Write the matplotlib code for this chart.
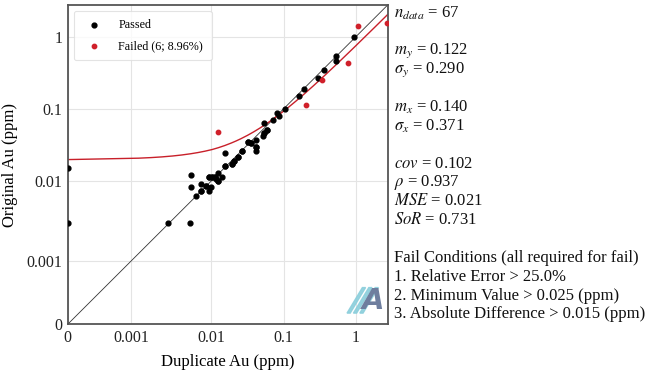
import numpy as np
import matplotlib
matplotlib.use("Agg")
import matplotlib.pyplot as plt
from matplotlib.patches import Polygon

plt.rcParams['font.family'] = ['Liberation Serif', 'DejaVu Serif']
plt.rcParams['mathtext.fontset'] = 'stix'

# ---------------- data ----------------
passed_x = [0.0, 0.0, 0.0029, 0.0054, 0.0055, 0.0055, 0.0064, 0.0074, 0.0074, 0.0086,
            0.0093, 0.0100, 0.0092, 0.0102, 0.0111, 0.0117, 0.0123, 0.0141, 0.0124, 0.0153,
            0.0153, 0.0194, 0.0204, 0.0231, 0.0266, 0.0318, 0.0352, 0.0407, 0.0412, 0.0415,
            0.0517, 0.0542, 0.0578, 0.0542, 0.0711, 0.0813, 0.0874, 0.1036, 0.162, 0.194,
            0.294, 0.359, 0.538, 0.538, 0.94,
            0.0102, 0.0111, 0.0092, 0.0123, 0.0194, 0.0204, 0.0231, 0.0266, 0.0318, 0.0352,
            0.0412, 0.0542, 0.0578, 0.0074, 0.0086, 0.0153]
passed_y = [0.015, 0.003, 0.0030, 0.0030, 0.0122, 0.0083, 0.0064, 0.0092, 0.0074, 0.0085,
            0.0074, 0.0083, 0.0112, 0.0112, 0.0112, 0.0107, 0.0099, 0.0112, 0.0129, 0.0163,
            0.0244, 0.0172, 0.0191, 0.0212, 0.0263, 0.0343, 0.0337, 0.0370, 0.0292, 0.0263,
            0.0418, 0.0468, 0.0510, 0.0637, 0.0702, 0.0866, 0.0787, 0.0990, 0.148, 0.188,
            0.267, 0.350, 0.547, 0.466, 0.993,
            0.0112, 0.0112, 0.0112, 0.0099, 0.0172, 0.0191, 0.0212, 0.0263, 0.0343, 0.0337,
            0.0292, 0.0468, 0.0510, 0.0074, 0.0085, 0.0163]
failed_x = [0.0122, 0.205, 0.334, 0.782, 1.06, 2.65]
failed_y = [0.0483, 0.113, 0.252, 0.428, 1.39, 1.55]

reg_slope = 0.731
reg_intercept = 0.0197

tick_values = [0, 0.001, 0.01, 0.1, 1]
tick_labels = ["0", "0.001", "0.01", "0.1", "1"]

stats_lines = [r"$n_{data}$ = 67", "",
               r"$m_y$ = 0.122", r"$\sigma_y$ = 0.290", "",
               r"$m_x$ = 0.140", r"$\sigma_x$ = 0.371", "",
               r"$cov$ = 0.102", r"$\rho$ = 0.937", r"$MSE$ = 0.021", r"$SoR$ = 0.731", "",
               "Fail Conditions (all required for fail)",
               "1. Relative Error > 25.0%",
               "2. Minimum Value > 0.025 (ppm)",
               "3. Absolute Difference > 0.015 (ppm)"]

# ---------------- custom zero-log scale ----------------
L = np.array([-3.0, -2.0, -1.0, 0.0, 1.0])
P = np.array([63.3, 143.65, 215.8, 287.95, 360.15])


def fwd(v):
    v = np.asarray(v, dtype=float)
    out = np.empty_like(v)
    small = v < 1e-3
    out[small] = v[small] / 1e-3 * P[0]
    lv = np.log10(np.where(small, 1e-3, v))
    out[~small] = np.interp(lv[~small], L, P)
    return out


def inv(p):
    p = np.asarray(p, dtype=float)
    out = np.empty_like(p)
    small = p < P[0]
    out[small] = p[small] / P[0] * 1e-3
    out[~small] = 10 ** np.interp(p[~small], P, L)
    return out


fig = plt.figure(figsize=(6.46, 3.73), dpi=100)
ax = fig.add_axes([0.1048, 0.1306, 0.4953, 0.8560])
ax.set_xscale('function', functions=(fwd, inv))
ax.set_yscale('function', functions=(fwd, inv))
lim = 2.75
ax.set_xlim(0, lim)
ax.set_ylim(0, lim)

ax.set_xticks(tick_values)
ax.set_xticklabels(tick_labels)
ax.set_yticks(tick_values)
ax.set_yticklabels(tick_labels)
ax.minorticks_off()
ax.tick_params(length=0, labelsize=11.5, pad=4, colors='#222222')
ax.grid(True, color='#e4e4e4', linewidth=0.8)
ax.set_axisbelow(True)
for s in ax.spines.values():
    s.set_color('#555555')
    s.set_linewidth(1.3)

# 1:1 line
ln = np.concatenate([[0], np.geomspace(1e-4, lim, 200)])
ax.plot(ln, ln, color='#333333', linewidth=0.6, zorder=2)
# regression line
ax.plot(ln, reg_slope * ln + reg_intercept, color='#c8202a', linewidth=1.0, zorder=2)

ax.scatter(passed_x, passed_y, s=12, color='black', zorder=3, label='Passed')
ax.scatter(failed_x, failed_y, s=10, color='#d0202a', zorder=3, label='Failed (6; 8.96%)')

leg = ax.legend(loc='upper left', fontsize=8.7, frameon=True, borderpad=0.7,
                handletextpad=1.0, labelspacing=0.7, bbox_to_anchor=(0.0, 1.0))
leg.get_frame().set_edgecolor('#dddddd')
leg.get_frame().set_linewidth(0.8)

ax.set_xlabel("Duplicate Au (ppm)", fontsize=12, labelpad=6)
ax.set_ylabel("Original Au (ppm)", fontsize=12, labelpad=6)

# stats text
y0 = 0.965
dy = 0.0505
for i, t in enumerate(stats_lines):
    if t:
        fig.text(0.610, y0 - i * dy, t, fontsize=12, ha='left', va='center', color='#111111')

# logo
logo_c = '#8ccfdc'
for k in range(3):
    x0 = 0.873 + k * 0.020
    poly = Polygon([[x0, 0.035], [x0 + 0.010, 0.035], [x0 + 0.058, 0.115], [x0 + 0.048, 0.115]],
                   closed=True, transform=ax.transAxes, color=logo_c, alpha=0.9, zorder=4)
    ax.add_patch(poly)
ax.text(0.99, 0.03, "A", transform=ax.transAxes, ha='right', va='bottom', fontsize=21,
        fontstyle='italic', fontweight='bold', color='#6e7e9e', family='DejaVu Sans', zorder=5)

fig.savefig("out.png", dpi=100)
